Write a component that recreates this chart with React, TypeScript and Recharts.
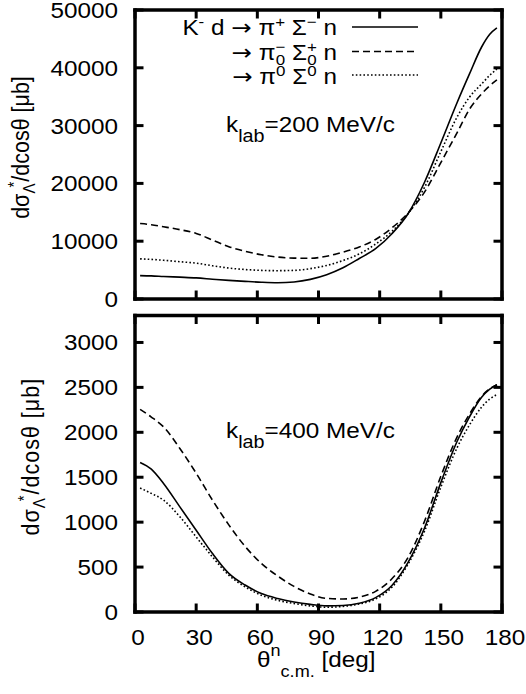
import React from 'react';
import { LineChart, Line, XAxis, YAxis } from 'recharts';

const FONT = '"Liberation Sans", Arial, Helvetica, sans-serif';
const ARROW_FONT = '"DejaVu Sans", sans-serif';
const SX = 1.13;
const FS = 21.5;
const TICK = 8.5;

// scattering angle grid (deg)
const theta = [2.5, 8, 14, 22, 30, 38, 46, 54, 62, 70, 78, 86, 94, 102, 110, 118, 126, 134, 142, 150, 158, 164, 170, 174, 177.5];

// k_lab = 200 MeV/c
const k200PipSigm = [4050, 4000, 3900, 3780, 3650, 3430, 3220, 3050, 2900, 2820, 2950, 3400, 4200, 5400, 7000, 8700, 11300, 14800, 20200, 27000, 34000, 38900, 43600, 45800, 46900];
const k200PimSigp = [13050, 12850, 12500, 12000, 11350, 10200, 9050, 8250, 7650, 7250, 7080, 7050, 7400, 8100, 9000, 10300, 12300, 14900, 18500, 23600, 28800, 32800, 35500, 36900, 37900];
const k200Pi0Sig0 = [6950, 6850, 6700, 6450, 6200, 5750, 5350, 5100, 4950, 4900, 4950, 5250, 5800, 6650, 7800, 9500, 11700, 14800, 19300, 25500, 31500, 34900, 37200, 38700, 39800];

// k_lab = 400 MeV/c
const k400PipSigm = [1665, 1590, 1430, 1170, 910, 650, 430, 300, 205, 150, 112, 85, 68, 72, 98, 160, 295, 555, 935, 1440, 1900, 2170, 2390, 2480, 2530];
const k400PimSigp = [2255, 2170, 2060, 1820, 1545, 1245, 970, 730, 540, 400, 285, 200, 152, 145, 165, 230, 370, 610, 1010, 1510, 1950, 2200, 2400, 2485, 2530];
const k400Pi0Sig0 = [1380, 1320, 1245, 1060, 836, 613, 410, 280, 186, 130, 95, 68, 53, 62, 90, 145, 275, 535, 900, 1390, 1830, 2080, 2280, 2370, 2420];

const xTicks = [0, 30, 60, 90, 120, 150, 180];
const yTicks200 = [0, 10000, 20000, 30000, 40000, 50000];
const yTicks400 = [0, 500, 1000, 1500, 2000, 2500, 3000];

const data200 = theta.map((t, i) => ({ theta: t, a: k200PipSigm[i], b: k200PimSigp[i], c: k200Pi0Sig0[i] }));
const data400 = theta.map((t, i) => ({ theta: t, a: k400PipSigm[i], b: k400PimSigp[i], c: k400Pi0Sig0[i] }));

const frame = { stroke: '#000', strokeWidth: 3.5, strokeLinecap: 'square' } as any;

const STxt = ({ x, y, anchor = 'start', size = FS, children, ls }: any) => (
  <g transform={`translate(${x},${y}) scale(${SX},1)`}>
    <text x={0} y={0} textAnchor={anchor} fontSize={size} fontFamily={FONT} fill="#000" letterSpacing={ls}>
      {children}
    </text>
  </g>
);

const LeftTick = (p: any) => {
  const { x, y, payload } = p;
  return (
    <g>
      <line x1={x} x2={x + TICK} y1={y} y2={y} stroke="#000" strokeWidth={3} />
      <STxt x={x - 17} y={y + 8} anchor="end">{payload.value}</STxt>
    </g>
  );
};
const RightTick = (p: any) => {
  const { x, y } = p;
  return <line x1={x} x2={x - TICK} y1={y} y2={y} stroke="#000" strokeWidth={3} />;
};
const TopTick = (p: any) => {
  const { x, y } = p;
  return <line x1={x} x2={x} y1={y} y2={y + TICK} stroke="#000" strokeWidth={3} />;
};
const BottomTick = (p: any) => {
  const { x, y, payload, show } = p;
  return (
    <g>
      <line x1={x} x2={x} y1={y} y2={y - TICK} stroke="#000" strokeWidth={3} />
      {show ? <STxt x={x + 3} y={y + 33} anchor="middle">{payload.value}</STxt> : null}
    </g>
  );
};

const Panel = ({ data, domain, ticks, width, height, margin, showX }: any) => (
  <LineChart width={width} height={height} data={data} margin={margin}>
    <XAxis xAxisId="b" orientation="bottom" type="number" dataKey="theta" domain={[0, 180]} ticks={xTicks}
      interval={0} allowDataOverflow height={1} tickSize={0} tickMargin={0} axisLine={frame} tickLine={false}
      tick={(pp: any) => <BottomTick {...pp} show={showX} />} />
    <XAxis xAxisId="t" orientation="top" type="number" dataKey="theta" domain={[0, 180]} ticks={xTicks}
      interval={0} allowDataOverflow height={1} tickSize={0} tickMargin={0} axisLine={frame} tickLine={false}
      tick={TopTick} />
    <YAxis yAxisId="l" orientation="left" type="number" domain={domain} ticks={ticks} interval={0}
      allowDataOverflow width={135} tickSize={0} tickMargin={0} axisLine={frame} tickLine={false} tick={LeftTick} />
    <YAxis yAxisId="r" orientation="right" type="number" domain={domain} ticks={ticks} interval={0}
      allowDataOverflow width={1} tickSize={0} tickMargin={0} axisLine={frame} tickLine={false} tick={RightTick} />
    <Line xAxisId="b" yAxisId="l" type="monotone" dataKey="a" name="K- d -> pi+ Sigma- n" stroke="#000" strokeWidth={1.6} dot={false} isAnimationActive={false} />
    <Line xAxisId="b" yAxisId="l" type="monotone" dataKey="b" name="-> pi- Sigma+ n" stroke="#000" strokeWidth={1.6} strokeDasharray="7 4" dot={false} isAnimationActive={false} />
    <Line xAxisId="b" yAxisId="l" type="monotone" dataKey="c" name="-> pi0 Sigma0 n" stroke="#000" strokeWidth={1.6} strokeDasharray="1.6 2.2" dot={false} isAnimationActive={false} />
  </LineChart>
);

const SUP = 15;

const YTitle = ({ x, y, ls }: any) => (
  <g transform={`translate(${x},${y}) scale(${SX},1) rotate(-90)`}>
    <text x={0} y={0} textAnchor="middle" fontSize={FS} fontFamily={FONT} fill="#000" letterSpacing={ls}>
      dσ<tspan dy={5} fontSize={SUP}>Λ</tspan><tspan dx={-4} dy={-13} fontSize={SUP}>*</tspan><tspan dy={8}>/dcosθ [μb]</tspan>
    </text>
  </g>
);

const Arrow = () => <tspan fontFamily={ARROW_FONT}>→</tspan>;

export default function App() {
  return (
    <div style={{ position: 'absolute', left: 0, top: 0, width: 526, height: 694, background: '#fff' }}>
      <div style={{ position: 'absolute', left: 0, top: 0 }}>
        <Panel data={data200} domain={[0, 50000]} ticks={yTicks200} width={526} height={307}
          margin={{ top: 9, right: 23, bottom: 7, left: 0 }} showX={false} />
      </div>
      <div style={{ position: 'absolute', left: 0, top: 307 }}>
        <Panel data={data400} domain={[0, 3300]} ticks={yTicks400} width={526} height={387}
          margin={{ top: 7.5, right: 23, bottom: 81, left: 0 }} showX={true} />
      </div>
      <svg width={526} height={694} style={{ position: 'absolute', left: 0, top: 0, pointerEvents: 'none' }}>
        <YTitle x={29} y={147.5} />
        <YTitle x={39} y={456.7} ls={1} />
        <g transform={`translate(257,667) scale(${SX},1)`}>
          <text x={0} y={0} fontSize={FS} fontFamily={FONT} fill="#000">
            θ<tspan dy={-11.5} fontSize={16}>n</tspan><tspan dy={21.5} fontSize={16}>c.m.</tspan><tspan dy={-10}> [deg]</tspan>
          </text>
        </g>
        {/* legend */}
        <STxt x={337} y={35} anchor="end">
          K<tspan dy={-8} fontSize={SUP}>-</tspan><tspan dy={8}> d </tspan><Arrow /><tspan> π</tspan><tspan dy={-8} fontSize={SUP}>+</tspan><tspan dy={8}> Σ</tspan><tspan dy={-8} fontSize={SUP}>−</tspan><tspan dy={8}> n</tspan>
        </STxt>
        <STxt x={337} y={59.5} anchor="end">
          <Arrow /><tspan> π</tspan><tspan dy={-8} fontSize={SUP}>−</tspan><tspan dx={-8.5} dy={13} fontSize={SUP}>0</tspan><tspan dy={-5}> Σ</tspan><tspan dy={-8} fontSize={SUP}>+</tspan><tspan dx={-8.5} dy={13} fontSize={SUP}>0</tspan><tspan dy={-5}> n</tspan>
        </STxt>
        <STxt x={337} y={83.5} anchor="end">
          <Arrow /><tspan> π</tspan><tspan dy={-8} fontSize={SUP}>0</tspan><tspan dy={8}> Σ</tspan><tspan dy={-8} fontSize={SUP}>0</tspan><tspan dy={8}> n</tspan>
        </STxt>
        <line x1={352} x2={418} y1={27} y2={27} stroke="#000" strokeWidth={1.6} />
        <line x1={352} x2={418} y1={51.5} y2={51.5} stroke="#000" strokeWidth={1.6} strokeDasharray="7 4" />
        <line x1={352} x2={418} y1={75} y2={75} stroke="#000" strokeWidth={1.6} strokeDasharray="1.6 2.2" />
        {/* momentum labels */}
        <STxt x={226} y={131.7}>k<tspan dy={10} fontSize={17.5}>lab</tspan><tspan dy={-10}>=200 MeV/c</tspan></STxt>
        <STxt x={226} y={438.3}>k<tspan dy={10} fontSize={17.5}>lab</tspan><tspan dy={-10}>=400 MeV/c</tspan></STxt>
      </svg>
    </div>
  );
}
